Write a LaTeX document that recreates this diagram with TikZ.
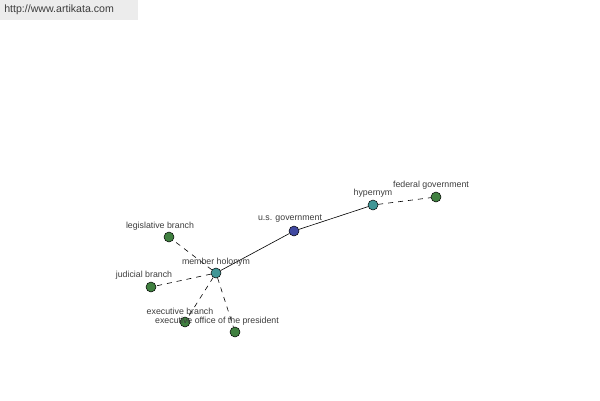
\documentclass[tikz,border=0pt]{standalone}
\usepackage{fontspec}
\setmainfont{Liberation Sans}
\definecolor{hubblue}{RGB}{64,72,160}
\definecolor{relteal}{RGB}{64,150,150}
\definecolor{leafgreen}{RGB}{64,128,64}
\definecolor{bannergray}{RGB}{236,236,236}
\definecolor{labelgray}{RGB}{60,60,60}
\begin{document}
\begin{tikzpicture}[x=1pt,y=-1pt,
  dot/.style={circle, draw=black, line width=0.5pt, inner sep=0pt, minimum size=10pt},
  lbl/.style={font=\fontsize{8.8}{10}\selectfont, text=labelgray, inner sep=0pt},
  link/.style={dash pattern=on 5pt off 5pt},
  every path/.style={line width=0.6pt}
]
\useasboundingbox (0,0) rectangle (600,400);
\fill[bannergray] (0,0) rectangle (138,20);
\node[font=\fontsize{10.6}{12}\selectfont, text=labelgray, anchor=west, inner sep=0pt] (url) at (4,10) {http://www.artikata.com};
\node[dot, fill=hubblue] (gov) at (294,231) {};
\node[dot, fill=relteal] (hyp) at (373,205) {};
\node[dot, fill=relteal] (hol) at (216,273) {};
\node[dot, fill=leafgreen] (fed) at (436,197) {};
\node[dot, fill=leafgreen] (leg) at (169,237) {};
\node[dot, fill=leafgreen] (jud) at (151,287) {};
\node[dot, fill=leafgreen] (exb) at (185,322) {};
\node[dot, fill=leafgreen] (exo) at (235,332) {};
\draw (hol) -- (gov);
\draw (gov) -- (hyp);
\draw[link] (hyp) -- (fed);
\draw[link] (hol) -- (leg);
\draw[link] (hol) -- (jud);
\draw[link] (hol) -- (exb);
\draw[link] (hol) -- (exo);
\node[lbl] (govl) at (290,219) {u.s. government};
\node[lbl] (hypl) at (373,193) {hypernym};
\node[lbl] (fedl) at (431,185) {federal government};
\node[lbl] (holl) at (216,262) {member holonym};
\node[lbl] (legl) at (160,226) {legislative branch};
\node[lbl] (judl) at (144,275) {judicial branch};
\node[lbl] (exbl) at (180,311) {executive branch};
\node[lbl] (exol) at (217,321) {executive office of the president};
\end{tikzpicture}
\end{document}
